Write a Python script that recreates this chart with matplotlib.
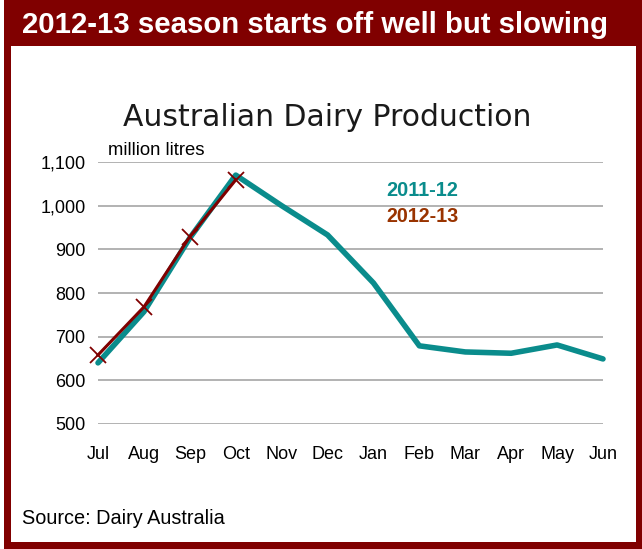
import matplotlib
matplotlib.use("Agg")
import matplotlib.pyplot as plt
from matplotlib.patches import Rectangle

months = ["Jul", "Aug", "Sep", "Oct", "Nov", "Dec", "Jan", "Feb", "Mar", "Apr", "May", "Jun"]
prod_2011_12 = [640, 757, 926, 1070, 1000, 933, 823, 679, 665, 662, 681, 649]
prod_2012_13 = [658, 768, 929, 1059]
y_ticks = [500, 600, 700, 800, 900, 1000, 1100]
y_tick_labels = ["500", "600", "700", "800", "900", "1,000", "1,100"]

W, H = 642, 549
fig = plt.figure(figsize=(W / 100, H / 100), dpi=100)
fig.patch.set_facecolor("white")

RED = "#800000"
TEAL = "#0A8C8C"


def px(x, y):
    return x / W, 1 - y / H


# frame
fig.patches.append(Rectangle(px(4, 549), 638 / W, 549 / H, transform=fig.transFigure,
                             facecolor=RED, edgecolor="none", zorder=0))
fig.patches.append(Rectangle(px(11, 542), 625 / W, (542 - 46) / H, transform=fig.transFigure,
                             facecolor="white", edgecolor="none", zorder=0))

renderer = fig.canvas.get_renderer()


def fit_text(x0, x1, yc, s, **kw):
    t = fig.text(*px(x0, yc), s, va="center", ha="left", fontsize=12, zorder=5, **kw)
    w = t.get_window_extent(renderer).width
    t.set_fontsize(12 * (x1 - x0) / w)
    return t


fit_text(22, 604, 25, "2012-13 season starts off well but slowing", color="white",
         fontweight="bold", family="Liberation Sans")
fit_text(123, 530, 118, "Australian Dairy Production", color="#1a1a1a", family="DejaVu Sans")
fit_text(108, 205, 150, "million litres", color="black", family="Liberation Sans")
fit_text(22, 225, 518, "Source: Dairy Australia", color="black", family="Liberation Sans")
fit_text(386, 458, 191, "2011-12", color=TEAL, fontweight="bold", family="Liberation Sans")
fit_text(386, 458, 217, "2012-13", color="#993300", fontweight="bold", family="Liberation Sans")

ax = fig.add_axes([98 / W, 1 - 424 / H, (603 - 98) / W, (424 - 162) / H])
ax.set_zorder(3)
x = list(range(len(months)))
ax.plot(x, prod_2011_12, color=TEAL, lw=4.0, solid_capstyle="round", solid_joinstyle="round", zorder=3)
ax.plot(x[:len(prod_2012_13)], prod_2012_13, color=RED, lw=2.2, marker="x", markersize=11,
        markeredgewidth=1.3, zorder=4)
ax.set_xlim(0, 11)
ax.set_ylim(500, 1100)
ax.set_yticks(y_ticks)
ax.set_yticklabels(y_tick_labels)
ax.set_xticks(x)
ax.set_xticklabels(months)
for sp in ax.spines.values():
    sp.set_visible(False)
ax.tick_params(length=0, labelsize=13)
ax.tick_params(axis="y", pad=9)
ax.tick_params(axis="x", pad=15.5)
for lab in ax.get_xticklabels() + ax.get_yticklabels():
    lab.set_family("Liberation Sans")
ax.grid(axis="y", color="#A6A6A6", lw=1.2)
ax.set_axisbelow(True)
ax.patch.set_alpha(0)
for l in ax.lines:
    l.set_clip_on(False)

fig.savefig("out.png", dpi=100)
